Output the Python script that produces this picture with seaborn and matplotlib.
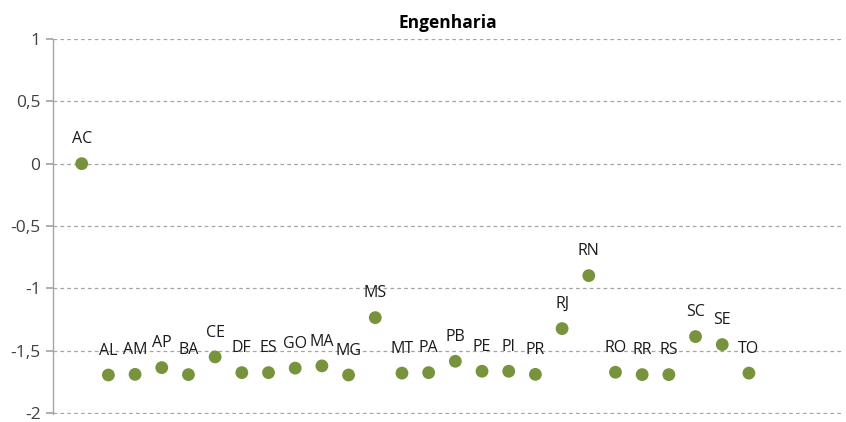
import matplotlib
matplotlib.use("Agg")
import matplotlib.pyplot as plt
import seaborn as sns
import pandas as pd
import numpy as np

states = ["AC", "AL", "AM", "AP", "BA", "CE", "DF", "ES", "GO", "MA", "MG", "MS", "MT",
          "PA", "PB", "PE", "PI", "PR", "RJ", "RN", "RO", "RR", "RS", "SC", "SE", "TO"]
values = [0.0, -1.695, -1.69, -1.636, -1.692, -1.55, -1.676, -1.676, -1.64, -1.622, -1.695,
          -1.235, -1.68, -1.676, -1.585, -1.665, -1.665, -1.69, -1.323, -0.898, -1.673,
          -1.692, -1.692, -1.387, -1.451, -1.68]
yticks = [1, 0.5, 0, -0.5, -1, -1.5, -2]
ytick_labels = ["1", "0,5", "0", "-0,5", "-1", "-1,5", "-2"]
title = "Engenharia"

df = pd.DataFrame({"state": states, "value": values, "pos": np.arange(1, len(states) + 1)})

sns.set_theme(style="white")
plt.rcParams['font.family'] = ['Open Sans', 'DejaVu Sans']

fig = plt.figure(figsize=(8.46, 4.22), dpi=100)
ax = fig.add_axes([53 / 846, 8 / 422, (843 - 53) / 846, (414 - 39) / 422])

sns.scatterplot(data=df, x="pos", y="value", ax=ax, color="#77933C", s=85,
                edgecolor="none", zorder=3, legend=False)

for _, r in df.iterrows():
    ax.annotate(r["state"], (r["pos"], r["value"]), xytext=(0, 17.5),
                textcoords="offset points", ha="center", va="center",
                fontsize=11.5, color="#1a1a1a", zorder=4)

ax.set_xlim(-0.075, 29.525)
ax.set_ylim(-2.008, 1)
ax.set_yticks(yticks)
ax.set_yticklabels(ytick_labels, fontsize=12.5, color="#404040")
ax.set_xticks([])
ax.set_xlabel("")
ax.set_ylabel("")
ax.yaxis.grid(True, linestyle=(0, (3, 2.5)), color="#a6a6a6", linewidth=0.9)
ax.set_axisbelow(True)
for side in ["top", "right", "bottom"]:
    ax.spines[side].set_visible(False)
ax.spines["left"].set_color("#a6a6a6")
ax.spines["left"].set_linewidth(1.0)
ax.tick_params(axis="y", which="major", left=True, length=5, color="#a6a6a6", pad=4)

ax.set_title(title, fontsize=12.5, fontweight="bold", color="#000000", pad=8)

fig.savefig("out.png", dpi=100, facecolor="white")
